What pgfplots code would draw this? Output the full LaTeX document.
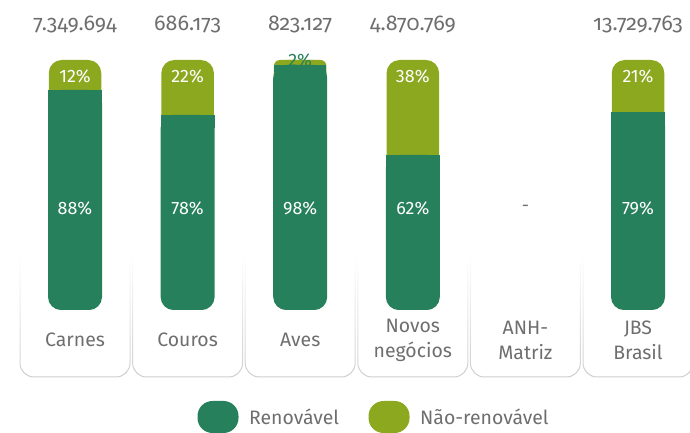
\documentclass[border=0pt]{standalone}
\usepackage{fontspec}
\setmainfont{Fira Sans}
\newfontfamily\onum{Fira Sans}[Numbers=OldStyle]
\usepackage{pgfplots}
\usepackage{pgfplotstable}
\pgfplotsset{compat=1.18}
\usetikzlibrary{fadings}
\definecolor{ren}{RGB}{38,128,92}
\definecolor{nren}{RGB}{139,168,30}
\definecolor{txt}{RGB}{110,110,110}
\definecolor{boxc}{RGB}{205,205,205}

\pgfplotstableread{
x ren non
0 88 12
1 78 22
2 98 2
3 62 38
5 79 21
}\data

\begin{document}
\begin{tikzpicture}
\begin{axis}[scale only axis, width=690bp, height=433bp,
  xmin=-0.6661, xmax=5.4618, ymin=-49.2, ymax=124,
  axis lines=none, clip=false]
\coordinate (bl) at (rel axis cs:0,0);
\coordinate (tr) at (rel axis cs:1,1);
% category boxes
\pgfplotsinvokeforeach{0,...,5}{
  \draw[boxc, line width=1bp, rounded corners=14bp, path fading=north]
    ([xshift=-55bp]axis cs:#1,22) -- ([xshift=-55bp]axis cs:#1,-26.8)
    -- ([xshift=55bp]axis cs:#1,-26.8) -- ([xshift=55bp]axis cs:#1,22);
}
% bars
\addplot[ybar, bar shift=0pt, bar width=52.5bp, fill=nren, draw=none, rounded corners=13bp]
  table[x=x, y expr=\thisrow{ren}+\thisrow{non}] {\data};
% thin cap of Aves: smaller rounding
\addplot[fill=nren, draw=none, rounded corners=6bp]
  coordinates {(1.7669,90) (1.7669,100) (2.2331,100) (2.2331,90)} -- cycle;
\addplot[ybar, bar shift=0pt, bar width=54bp, fill=ren, draw=none, rounded corners=13bp]
  table[x=x, y=ren] {\data};
% square off the top of the renewable part
\addplot[ren, line width=13bp, line cap=butt] coordinates {(-0.2398,85.4) (0.2398,85.4)};
\addplot[ren, line width=13bp, line cap=butt] coordinates {(0.7602,75.4) (1.2398,75.4)};
\addplot[ren, line width=7.5bp, line cap=butt] coordinates {(1.7669,96.5) (2.2331,96.5)};
\addplot[ren, line width=13bp, line cap=butt] coordinates {(2.7602,59.4) (3.2398,59.4)};
\addplot[ren, line width=13bp, line cap=butt] coordinates {(4.7602,76.4) (5.2398,76.4)};
% totals
\begin{scope}[every node/.style={txt, font=\onum\fontsize{21.5}{21.5}\selectfont}]
\node at (axis cs:0,114) {7.349.694};
\node at (axis cs:1,114) {686.173};
\node at (axis cs:2,114) {823.127};
\node at (axis cs:3,114) {4.870.769};
\node at (axis cs:5,114) {13.729.763};
\end{scope}
% percentages
\begin{scope}[every node/.style={white, font=\fontsize{18}{18}\selectfont}]
\node at (axis cs:0,40.8) {88\%};
\node at (axis cs:1,40.8) {78\%};
\node at (axis cs:2,40.8) {98\%};
\node at (axis cs:3,40.8) {62\%};
\node at (axis cs:5,40.8) {79\%};
\node at (axis cs:0,93.5) {12\%};
\node at (axis cs:1,93.5) {22\%};
\node at (axis cs:3,93.5) {38\%};
\node at (axis cs:5,93.5) {21\%};
\node[ren] at (axis cs:2,100) {2\%};
\end{scope}
\node[txt, font=\fontsize{18}{18}\selectfont] at (axis cs:4,40.8) {-};
% categories
\begin{scope}[every node/.style={txt, align=center, font=\fontsize{19.5}{25}\selectfont}]
\node at (axis cs:0,-12) {Carnes};
\node at (axis cs:1,-12) {Couros};
\node at (axis cs:2,-12) {Aves};
\node at (axis cs:3,-12) {Novos\\negócios};
\node at (axis cs:4,-12) {ANH-\\Matriz};
\node at (axis cs:5,-12) {JBS\\Brasil};
\end{scope}
% legend
\node[fill=ren, rounded corners=15bp, minimum width=41bp, minimum height=32bp, inner sep=0pt] at (axis cs:1.270,-42.8) {};
\node[txt, anchor=west, inner sep=0pt, font=\fontsize{19.5}{19.5}\selectfont] at (axis cs:1.545,-42.8) {Renovável};
\node[fill=nren, rounded corners=15bp, minimum width=41bp, minimum height=32bp, inner sep=0pt] at (axis cs:2.789,-42.8) {};
\node[txt, anchor=west, inner sep=0pt, font=\fontsize{19.5}{19.5}\selectfont] at (axis cs:3.064,-42.8) {Não-renovável};
\end{axis}
\pgfresetboundingbox
\path (bl) rectangle (tr);
\end{tikzpicture}
\end{document}
